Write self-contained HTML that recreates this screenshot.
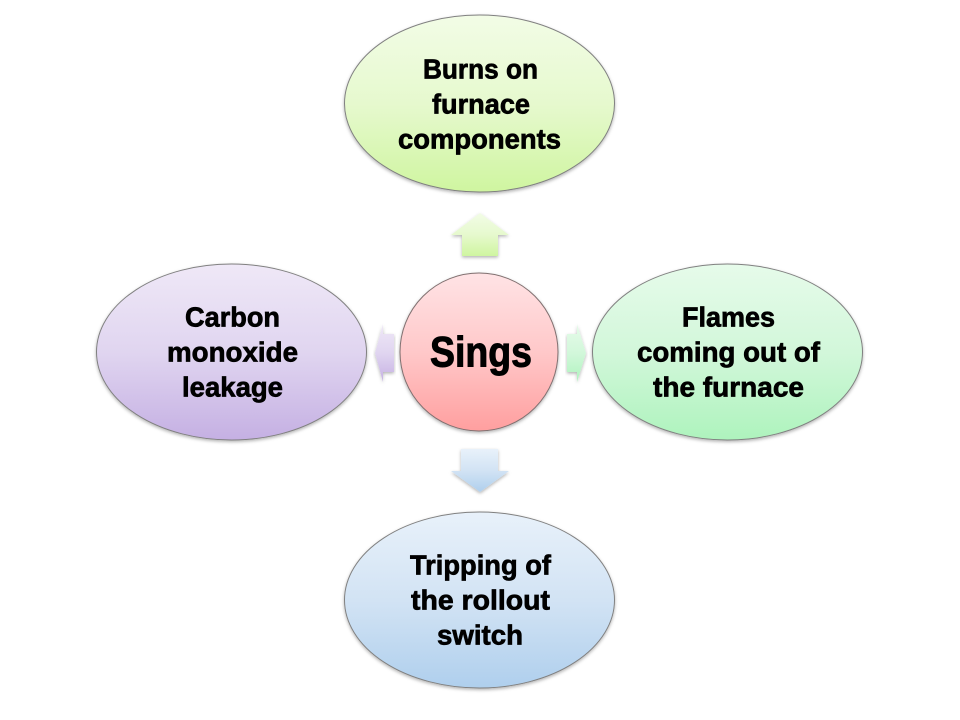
<!DOCTYPE html>
<html>
<head>
<meta charset="utf-8">
<style>
html,body{margin:0;padding:0;background:#fff;width:960px;height:720px;overflow:hidden}
svg{display:block}
text{font-family:"Liberation Sans",sans-serif;font-weight:bold;fill:#000;stroke:#000;stroke-width:.7px}
.l{font-size:28px}
.s{font-size:43px;stroke-width:1px}
</style>
</head>
<body>
<svg width="960" height="720" viewBox="0 0 960 720" xmlns="http://www.w3.org/2000/svg">
<defs>
<linearGradient id="g1" x1="0" y1="0" x2="0" y2="1"><stop offset="0" stop-color="#f2fce6"/><stop offset=".5" stop-color="#e6f9ce"/><stop offset="1" stop-color="#cff5a0"/></linearGradient>
<linearGradient id="g2" x1="0" y1="0" x2="0" y2="1"><stop offset="0" stop-color="#e6fbea"/><stop offset=".5" stop-color="#d2f7da"/><stop offset="1" stop-color="#aef3bd"/></linearGradient>
<linearGradient id="g3" x1="0" y1="0" x2="0" y2="1"><stop offset="0" stop-color="#e8f1fa"/><stop offset=".5" stop-color="#d2e3f4"/><stop offset="1" stop-color="#afcfed"/></linearGradient>
<linearGradient id="g4" x1="0" y1="0" x2="0" y2="1"><stop offset="0" stop-color="#efe8f7"/><stop offset=".5" stop-color="#e0d5f0"/><stop offset="1" stop-color="#c5b0e3"/></linearGradient>
<linearGradient id="g5" x1="0" y1="0" x2="0" y2="1"><stop offset="0" stop-color="#ffe3e5"/><stop offset=".5" stop-color="#ffc8c9"/><stop offset="1" stop-color="#ff9f9f"/></linearGradient>
<filter id="sh" x="-10%" y="-10%" width="120%" height="125%"><feDropShadow dx="0" dy="1.5" stdDeviation="1.5" flood-color="#000" flood-opacity=".3"/></filter>
</defs>

<polygon points="480,213 509,235 498,235 498,256 462,256 462,235 451,235" fill="url(#g1)" filter="url(#sh)"/>
<polygon points="461,449 498,449 498,471 509,471 480,492 451,471 461,471" fill="url(#g3)" filter="url(#sh)"/>
<polygon points="375,353 383,324 383,334 394,334 394,372 383,372 383,382" fill="url(#g4)" filter="url(#sh)"/>
<polygon points="586,353 577,324 577,334 567,334 567,372 577,372 577,382" fill="url(#g2)" filter="url(#sh)"/>

<ellipse cx="479.5" cy="103.5" rx="135" ry="88.5" fill="url(#g1)" stroke="#808080" stroke-width="1" filter="url(#sh)"/>
<ellipse cx="727.5" cy="352" rx="135" ry="88" fill="url(#g2)" stroke="#808080" stroke-width="1" filter="url(#sh)"/>
<ellipse cx="479.5" cy="600" rx="135" ry="88" fill="url(#g3)" stroke="#808080" stroke-width="1" filter="url(#sh)"/>
<ellipse cx="231.5" cy="352" rx="135" ry="88" fill="url(#g4)" stroke="#808080" stroke-width="1" filter="url(#sh)"/>
<circle cx="479" cy="352" r="79" fill="url(#g5)" stroke="#807070" stroke-width="1" filter="url(#sh)"/>

<text class="l" x="423" y="78.5" textLength="115" lengthAdjust="spacingAndGlyphs">Burns on</text>
<text class="l" x="432" y="113.5" textLength="98" lengthAdjust="spacingAndGlyphs">furnace</text>
<text class="l" x="398" y="148.5" textLength="163" lengthAdjust="spacingAndGlyphs">components</text>

<text class="l" x="682" y="326.5" textLength="93" lengthAdjust="spacingAndGlyphs">Flames</text>
<text class="l" x="637" y="361.5" textLength="183" lengthAdjust="spacingAndGlyphs">coming out of</text>
<text class="l" x="653" y="396.5" textLength="151" lengthAdjust="spacingAndGlyphs">the furnace</text>

<text class="l" x="185" y="326.5" textLength="95" lengthAdjust="spacingAndGlyphs">Carbon</text>
<text class="l" x="167" y="361.5" textLength="131" lengthAdjust="spacingAndGlyphs">monoxide</text>
<text class="l" x="182" y="396.5" textLength="101" lengthAdjust="spacingAndGlyphs">leakage</text>

<text class="l" x="410" y="574.5" textLength="141" lengthAdjust="spacingAndGlyphs">Tripping of</text>
<text class="l" x="411" y="609.5" textLength="139" lengthAdjust="spacingAndGlyphs">the rollout</text>
<text class="l" x="437" y="644.5" textLength="86" lengthAdjust="spacingAndGlyphs">switch</text>

<text class="s" x="430" y="366.5" textLength="102" lengthAdjust="spacingAndGlyphs">Sings</text>
</svg>
</body>
</html>
